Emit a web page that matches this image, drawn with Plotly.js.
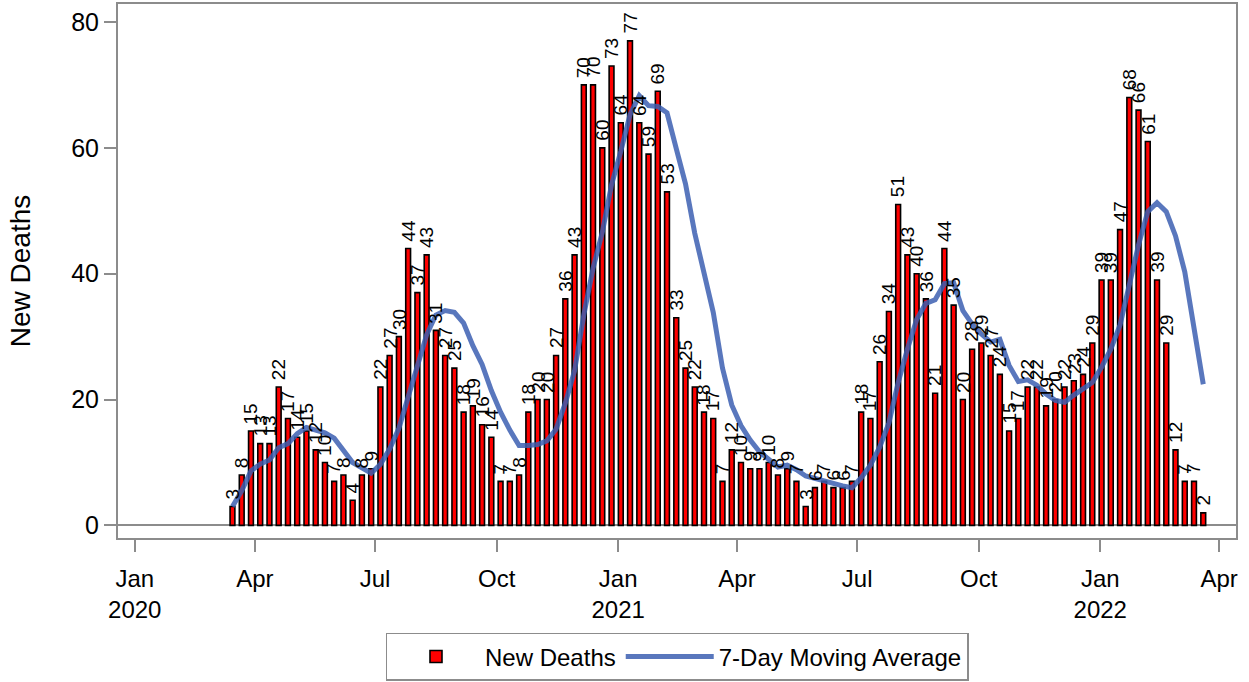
<!DOCTYPE html>
<html><head><meta charset="utf-8">
<script src="https://cdn.plot.ly/plotly-3.0.1.min.js"></script>
<style>html,body{margin:0;padding:0;background:#fff}#chart{width:1249px;height:682px}</style>
</head><body><div id="chart"></div>
<script>
const weeks = [
'2020-03-15','2020-03-22','2020-03-29','2020-04-05','2020-04-12','2020-04-19','2020-04-26',
'2020-05-03','2020-05-10','2020-05-17','2020-05-24','2020-05-31','2020-06-07','2020-06-14',
'2020-06-21','2020-06-28','2020-07-05','2020-07-12','2020-07-19','2020-07-26','2020-08-02',
'2020-08-09','2020-08-16','2020-08-23','2020-08-30','2020-09-06','2020-09-13','2020-09-20',
'2020-09-27','2020-10-04','2020-10-11','2020-10-18','2020-10-25','2020-11-01','2020-11-08',
'2020-11-15','2020-11-22','2020-11-29','2020-12-06','2020-12-13','2020-12-20','2020-12-27',
'2021-01-03','2021-01-10','2021-01-17','2021-01-24','2021-01-31','2021-02-07','2021-02-14',
'2021-02-21','2021-02-28','2021-03-07','2021-03-14','2021-03-21','2021-03-28','2021-04-04',
'2021-04-11','2021-04-18','2021-04-25','2021-05-02','2021-05-09','2021-05-16','2021-05-23',
'2021-05-30','2021-06-06','2021-06-13','2021-06-20','2021-06-27','2021-07-04','2021-07-11',
'2021-07-18','2021-07-25','2021-08-01','2021-08-08','2021-08-15','2021-08-22','2021-08-29',
'2021-09-05','2021-09-12','2021-09-19','2021-09-26','2021-10-03','2021-10-10','2021-10-17',
'2021-10-24','2021-10-31','2021-11-07','2021-11-14','2021-11-21','2021-11-28','2021-12-05',
'2021-12-12','2021-12-19','2021-12-26','2022-01-02','2022-01-09','2022-01-16','2022-01-23',
'2022-01-30','2022-02-06','2022-02-13','2022-02-20','2022-02-27','2022-03-06','2022-03-13',
'2022-03-20'];

const newDeaths = [
3,8,15,13,13,22,17,14,15,12,10,7,8,4,8,9,
22,27,30,44,37,43,31,27,25,18,19,16,14,7,7,8,
18,20,20,27,36,43,70,70,60,73,64,77,64,59,69,53,33,25,22,18,17,
7,12,10,9,9,10,8,9,7,3,6,7,6,6,7,
18,17,26,34,51,43,40,36,21,44,35,20,28,29,27,24,15,17,
22,22,19,20,22,23,24,29,39,39,47,68,66,61,39,29,12,7,7,2];

const movingAvg = [
3,5.5,8.67,9.75,10.4,12.33,13,14.57,15.57,15.14,14.71,13.86,11.86,10,9.14,8.29,
9.71,12.14,15.43,20.57,25.29,30.29,33.43,34.14,33.86,32.14,28.57,25.57,21.43,18,15.14,12.71,
12.71,12.86,13.43,15.29,19.43,24.57,33.43,40.86,46.57,54.14,59.43,65.29,68.29,66.71,66.57,65.57,
59.86,54.29,46.43,39.86,33.86,25,19.14,15.86,13.57,11.71,10.57,9.29,9.57,8.86,7.86,7.43,
7.14,6.57,6.29,6,7.57,9.57,12.43,16.29,22.71,28,32.71,35.29,35.86,38.43,38.57,34.14,
32,30.43,29.14,29.57,25.43,22.86,23.14,22.29,20.86,19.86,19.57,20.71,21.71,22.71,25.14,28,
31.86,38.43,44.57,49.86,51.29,49.86,46,40.29,31.57,22.43];

const tickDates = ['2020-01-01','2020-04-01','2020-07-01','2020-10-01','2021-01-01',
'2021-04-01','2021-07-01','2021-10-01','2022-01-01','2022-04-01'];
const tickLabels = ['Jan<br>2020','Apr','Jul','Oct','Jan<br>2021','Apr','Jul','Oct','Jan<br>2022','Apr'];
const yTicks = [0,20,40,60,80];

const FONT = 'Liberation Sans, Arial, sans-serif';
const GRAY = '#8c8c8c';

const traces = [
  {
    type:'bar', name:'New Deaths', x:weeks, y:newDeaths,
    marker:{color:'#ff0000', line:{color:'#000000', width:1.6}},
    hoverinfo:'x+y'
  },
  {
    type:'scatter', mode:'lines', name:'7-Day Moving Average', x:weeks, y:movingAvg,
    line:{color:'rgba(60,95,178,0.85)', width:5},
    hoverinfo:'x+y'
  }
];

// value labels above each bar, positioned by the axes from the data
const barLabels = weeks.map((w, i) => ({
  x: w, y: newDeaths[i], xref:'x', yref:'y',
  text: String(newDeaths[i]), textangle:-90, showarrow:false,
  xanchor:'center', yanchor:'bottom', yshift:6, borderpad:0,
  font:{family:FONT, size:19, color:'#000'}
}));

const layout = {
  width:1249, height:682,
  margin:{l:118, r:13, t:4, b:144, pad:0},
  paper_bgcolor:'#fff', plot_bgcolor:'#fff',
  font:{family:FONT, size:24, color:'#000'},
  bargap:0.48,
  showlegend:true,
  annotations: barLabels,
  legend:{orientation:'h', xref:'paper', yref:'container',
          x:0.5, xanchor:'center', y:0.072, yanchor:'top',
          bordercolor:GRAY, borderwidth:1.5, font:{family:FONT, size:24},
          itemwidth:88},
  xaxis:{type:'date', range:['2019-12-19 08:00','2022-04-13 19:00'],
         tickmode:'array', tickvals:tickDates, ticktext:tickLabels,
         ticks:'outside', ticklen:12, tickwidth:2, tickcolor:GRAY,
         showline:true, linecolor:GRAY, linewidth:2, mirror:true,
         showgrid:false, zeroline:false, ticklabelstandoff:6,
         tickfont:{family:FONT, size:24}},
  yaxis:{range:[-2.0, 82.86], tickmode:'array', tickvals:yTicks,
         ticks:'outside', ticklen:12, tickwidth:2, tickcolor:GRAY,
         showline:true, linecolor:GRAY, linewidth:2, mirror:true,
         showgrid:false, zeroline:true, zerolinecolor:GRAY, zerolinewidth:2,
         ticklabelstandoff:0, tickfont:{family:FONT, size:25},
         title:{text:'New Deaths', font:{family:FONT, size:28}, standoff:32}}
};

Plotly.newPlot('chart', traces, layout, {displayModeBar:false, staticPlot:true});
</script>
</body></html>
